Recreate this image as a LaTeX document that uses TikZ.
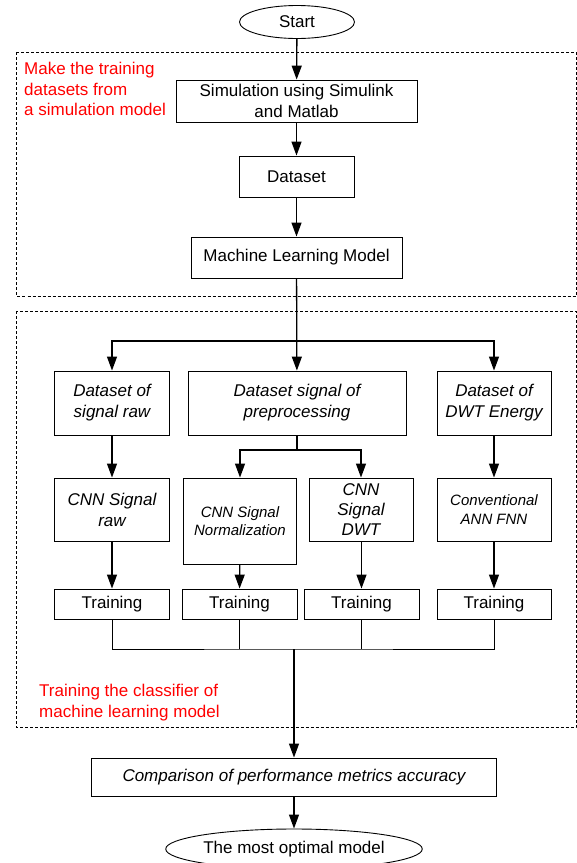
\documentclass[tikz,border=0pt]{standalone}
\usepackage{fontspec}
\setmainfont{Liberation Sans}
\usetikzlibrary{shapes.geometric}
\usetikzlibrary{arrows.meta}

\tikzset{
  stepbox/.style={draw, line width=0.9pt, rectangle, align=center, inner sep=0pt,
    font=\fontsize{17}{21}\selectfont},
  itbox/.style={stepbox, font=\fontsize{17}{21}\selectfont\itshape},
  smallit/.style={stepbox, font=\fontsize{15}{18.5}\selectfont\itshape},
  termnode/.style={draw, line width=0.9pt, ellipse, inner sep=0pt,
    font=\fontsize{17}{21}\selectfont},
  flow/.style={line width=1.3pt, -{Triangle[length=14pt,width=10pt]}},
  wire/.style={line width=1.3pt},
  joinwire/.style={line width=1pt},
  area/.style={draw, line width=0.7pt, dash pattern=on 3pt off 2pt},
  note/.style={text=red, align=left, anchor=north west, inner sep=0pt,
    font=\fontsize{17}{20.5}\selectfont}
}

\begin{document}
\begin{tikzpicture}[x=1pt,y=-1pt]
\useasboundingbox (0,0) rectangle (577,863);

% dashed areas
\path[area] (16.5,52) rectangle (576,296);
\path[area] (16.5,311) rectangle (576,727);
\node[note] (notesim) at (24,62) {Make the training\\datasets from\\a simulation model};
\node[note] (notetrain) at (39,684) {Training the classifier of\\machine learning model};

% main column
\node[termnode, minimum width=115pt, minimum height=33pt] (start) at (297,22) {Start};
\node[stepbox, minimum width=241pt, minimum height=42pt] (sim) at (296.5,101) {Simulation using Simulink\\and Matlab};
\node[stepbox, minimum width=115pt, minimum height=41pt] (data) at (296.5,176.5) {Dataset};
\node[stepbox, minimum width=211pt, minimum height=41pt] (mlm) at (296.5,257.5) {Machine Learning Model};

% datasets
\node[itbox, minimum width=115pt, minimum height=64pt] (dsraw) at (112,403) {Dataset of\\signal raw};
\node[itbox, minimum width=218pt, minimum height=64pt] (dspre) at (297,403) {Dataset signal of\\preprocessing};
\node[itbox, minimum width=114pt, minimum height=64pt] (dsdwt) at (494,403) {Dataset of\\DWT Energy};

% models
\node[itbox, minimum width=115pt, minimum height=63pt] (cnnraw) at (112,509.5) {CNN Signal\\raw};
\node[smallit, minimum width=113pt, minimum height=86pt] (cnnnorm) at (240,521) {CNN Signal\\Normalization};
\node[itbox, minimum width=104pt, minimum height=63pt, font=\fontsize{17}{20}\selectfont\itshape] (cnndwt) at (361,509.5) {CNN\\Signal\\DWT};
\node[smallit, minimum width=114pt, minimum height=63pt] (ann) at (494,509.5) {Conventional\\ANN FNN};

% training
\node[stepbox, minimum width=115pt, minimum height=30pt] (trraw) at (112,604) {Training};
\node[stepbox, minimum width=115pt, minimum height=30pt] (trnorm) at (239.5,604) {Training};
\node[stepbox, minimum width=115pt, minimum height=30pt] (trdwt) at (361.5,604) {Training};
\node[stepbox, minimum width=114pt, minimum height=30pt] (trann) at (494,604) {Training};

\node[itbox, minimum width=405pt, minimum height=38pt] (comp) at (294,777) {Comparison of performance metrics accuracy};
\node[termnode, minimum width=228pt, minimum height=40pt] (best) at (294,849) {The most optimal model};

% connectors
\coordinate (split) at (297,341);
\coordinate (presplit) at (297,450);
\coordinate (join) at (294,649);

\draw[flow] (start) -- (sim);
\draw[flow] (sim) -- (data);
\draw[flow] (data) -- (mlm);
\draw[flow] (mlm) -- (dspre);
\draw[flow] (split) -| (dsraw);
\draw[flow] (split) -| (dsdwt);

\draw[wire] (dspre) -- (presplit);
\draw[flow] (presplit) -| (cnnnorm);
\draw[flow] (presplit) -| (cnndwt);
\draw[flow] (dsraw) -- (cnnraw);
\draw[flow] (dsdwt) -- (ann);

\draw[flow] (cnnraw) -- (trraw);
\draw[flow] (cnnnorm) -- (trnorm);
\draw[flow] (cnndwt.south -| trdwt) -- (trdwt);
\draw[flow] (ann) -- (trann);

\draw[joinwire] (trraw.south) |- (join) -| (trann.south);
\draw[joinwire] (trnorm.south) -- (trnorm.south |- join);
\draw[joinwire] (trdwt.south) -- (trdwt.south |- join);
\draw[flow] (join) -- (comp);
\draw[flow] (comp) -- (best);
\end{tikzpicture}
\end{document}
